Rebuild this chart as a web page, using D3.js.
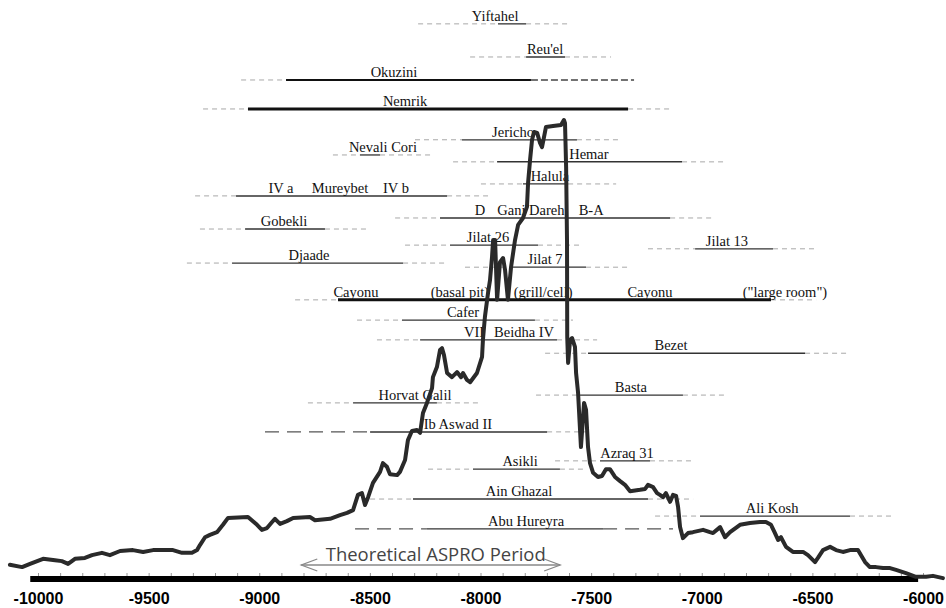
<!DOCTYPE html>
<html>
<head>
<meta charset="utf-8">
<script src="https://cdnjs.cloudflare.com/ajax/libs/d3/7.8.5/d3.min.js"></script>
<style>
	body { margin: 0; background: #fff; }
	svg#plot { display: block; }
	.site text { font-family: "Liberation Serif", "Times New Roman", serif; font-size: 14.5px; fill: #111; }
</style>
</head>
<body>
<svg id="plot" width="946" height="608"></svg>
<script>

// summed probability curve (year BC as negative, relative height)
var curveYears = [
	-10127,-10072,-10036,-9977,-9923,-9892,-9864,-9833,-9788,-9756,
	-9711,-9675,-9629,-9571,-9525,-9480,-9390,-9349,-9304,-9281,
	-9268,-9245,-9223,-9191,-9164,-9141,-9051,-9010,-8988,-8965,
	-8942,-8929,-8906,-8875,-8847,-8771,-8748,-8680,-8635,-8603,
	-8576,-8554,-8536,-8522,-8508,-8486,-8454,-8441,-8423,-8409,
	-8377,-8364,-8341,-8328,-8310,-8287,-8273,-8260,-8242,-8219,
	-8215,-8197,-8183,-8174,-8165,-8151,-8129,-8106,-8088,-8079,
	-8061,-8047,-8016,-7993,-7989,-7980,-7966,-7957,-7948,-7943,
	-7934,-7925,-7912,-7898,-7889,-7876,-7862,-7844,-7830,-7808,
	-7790,-7785,-7776,-7767,-7758,-7744,-7731,-7722,-7713,-7704,
	-7672,-7636,-7623,-7618,-7613,-7609,-7608,-7604,-7595,-7586,
	-7573,-7568,-7559,-7546,-7532,-7523,-7514,-7505,-7491,-7469,
	-7451,-7433,-7415,-7392,-7369,-7347,-7324,-7279,-7256,-7243,
	-7220,-7202,-7189,-7175,-7162,-7143,-7130,-7116,-7107,-7098,
	-7085,-7062,-7040,-6994,-6963,-6949,-6917,-6895,-6872,-6827,
	-6782,-6737,-6710,-6687,-6669,-6655,-6642,-6619,-6588,-6542,
	-6520,-6488,-6475,-6452,-6420,-6393,-6362,-6330,-6294,-6262,
	-6240,-6212,-6181,-6149,-6122,-6077,-6032,-5986,-5955,-5910
];
var curveValues = [
	3.3,2.8,3.5,4.6,4.3,4.1,3.5,4.6,4.8,5.4,
	5.9,5.4,6.3,6.5,6.1,6.5,6.5,5.9,5.9,6.5,
	7.6,9.3,9.8,10.4,12.0,13.5,13.7,12.0,10.9,11.3,
	12.6,13.3,12.2,12.8,13.5,13.7,13.0,13.3,14.1,14.6,
	15.2,18.5,18.9,16.3,18.0,21.1,23.5,25.4,24.6,23.0,
	22.8,23.5,26.1,30.4,32.4,32.6,32.0,36.3,38.5,41.7,
	44.1,46.3,50.0,50.4,48.9,45.0,44.1,45.2,44.1,45.0,
	43.5,43.0,45.0,48.5,52.2,57.2,62.4,65.2,70.2,73.9,
	73.9,60.9,69.1,70.0,67.4,60.9,68.0,73.9,77.2,78.7,
	81.1,86.3,91.3,95.7,97.4,97.2,95.0,94.1,96.3,98.5,
	98.7,98.9,100,99.3,89.8,73.9,52.8,47.2,52.2,52.6,
	50.7,45.0,40.7,28.9,38.5,37.0,28.9,25.4,23.3,22.4,
	22.6,24.1,24.1,22.4,21.5,20.7,19.3,19.6,19.8,20.7,
	20.2,18.9,18.5,18.0,18.9,17.0,18.5,18.3,15.9,11.5,
	9.1,10.2,10.4,10.9,10.4,10.2,11.5,9.3,10.4,12.0,
	12.4,12.6,12.6,12.0,10.2,8.7,9.3,7.2,6.1,6.1,
	5.4,3.9,4.8,6.5,7.2,6.5,6.1,6.5,6.5,3.9,
	2.8,2.8,2.6,2.6,2.2,1.5,0.7,0.7,0.9,0.4
];

// site ranges: dashed = possible extent, solid = main range
var siteNames  = ["Yiftahel","Reu'el","Okuzini","Nemrik","Jericho","Nevali Cori","Hemar","Halula","Mureybet","Gani Dareh",
	"Gobekli","Jilat 26","Jilat 13","Djaade","Jilat 7","Cayonu","Cafer","Beidha","Bezet","Basta",
	"Horvat Galil","Ib Aswad II","Azraq 31","Asikli","Ain Ghazal","Ali Kosh","Abu Hureyra"];
var siteLevels = [120.9,113.7,108.7,102.4,95.7,92.4,90.9,86.1,83.5,78.7,
	76.3,72.8,72.0,68.9,68.0,60.9,56.5,52.2,49.3,40.2,
	38.5,32.2,25.9,24.1,17.6,13.9,11.1];
var dashFrom  = [-8282,-8047,-9082,-9254,-8296,-8667,-8124,-7998,-9290,-8386,
	-9268,-8341,-7243,-9327,-8070,-8838,-8558,-8468,-7708,-7749,
	-8780,-8974,-7663,-8237,-8499,-7211,-8567];
var solidFrom = [-7921,-7794,-8879,-9051,-8084,-8545,-7925,-7808,-9105,-8183,
	-9064,-8138,-7030,-9123,-7867,-8644,-8355,-8273,-7514,-7550,
	-8576,-8499,-7460,-8034,-8305,-7008,-8242];
var solidTo   = [-7794,-7618,-7772,-7333,-7564,-8454,-7089,-7604,-8151,-7143,
	-8703,-7740,-6678,-8350,-7523,-6687,-7754,-7654,-6533,-7085,
	-8197,-7699,-7234,-7641,-7243,-6330,-7446];
var dashTo    = [-7595,-7410,-7306,-7130,-7365,-8215,-6890,-7387,-7966,-6940,
	-8513,-7550,-6483,-8160,-7320,-6483,-7582,-7473,-6339,-6895,
	-8002,-7505,-7039,-7523,-7039,-6135,-7130];
var siteWeight = [1,1,2,3,1,1,1.5,1,1.5,1.5, 1,1,1,1,1,3,1,1,1.5,1, 1,1.5,1,1,1.5,1,1];
var leftDash   = ["l","l","l","l","l","l","l","l","l","l", "l","l","l","l","l","l","l","l","l","l", "l","L","l","l","l","l","L"];
var rightDash  = ["l","l","d","l","l","l","l","l","l","l", "l","l","l","l","l","l","l","l","l","l", "l","l","l","l","l","l","L"];

// labels sitting on the rows (some rows carry several)
var labelTexts  = ["Yiftahel","Reu'el","Okuzini","Nemrik","Jericho","Nevali Cori","Hemar","Halula",
	"IV a","Mureybet","IV b","D","Gani Dareh","B-A","Gobekli","Jilat 26","Jilat 13","Djaade","Jilat 7",
	"Cayonu","(basal pit)","(grill/cell)","Cayonu","(\"large room\")","Cafer","VII","Beidha IV","Bezet","Basta",
	"Horvat Galil","Ib Aswad II","Azraq 31","Asikli","Ain Ghazal","Ali Kosh","Abu Hureyra"];
var labelYears  = [-7934,-7708,-8391,-8341,-7853,-8441,-7510,-7686,
	-8902,-8635,-8382,-8002,-7772,-7500,-8888,-7966,-6886,-8775,-7708,
	-8563,-8093,-7717,-7234,-6624,-8079,-8029,-7803,-7139,-7320,
	-8296,-8102,-7338,-7821,-7826,-6682,-7794];
var labelLevels = [120.9,113.7,108.7,102.4,95.7,92.4,90.9,86.1,
	83.5,83.5,83.5,78.7,78.7,78.7,76.3,72.8,72.0,68.9,68.0,
	60.9,60.9,60.9,60.9,60.9,56.5,52.2,52.2,49.3,40.2,
	38.5,32.2,25.9,24.1,17.6,13.9,11.1];

var xTicks = [-10000,-9500,-9000,-8500,-8000,-7500,-7000,-6500,-6000];
var minorTicks = d3.range(-10000, -5999, 100);
var aspro = [-8810, -7640];

var svg = d3.select("#plot");
var x = d3.scaleLinear().domain([-10000, -6000]).range([38, 923]);
var y = d3.scaleLinear().domain([0, 100]).range([580, 120]);

var dashStyle = {
	l: { stroke: "#a8a8a8", dash: "5,4", width: 1 },
	d: { stroke: "#444", dash: "7,3", width: 1.5 },
	L: { stroke: "#555", dash: "14,8", width: 1.3 }
};

var rows = siteNames.map(function(n, i){
	return { name: n, level: siteLevels[i], d0: dashFrom[i], s0: solidFrom[i], s1: solidTo[i], d1: dashTo[i],
		w: siteWeight[i], l: leftDash[i], r: rightDash[i] };
});

var site = svg.append("g").attr("class", "site");

function seg(g, a, b, lev, st){
	g.append("line")
		.attr("x1", x(a)).attr("x2", x(b))
		.attr("y1", y(lev)).attr("y2", y(lev))
		.style("stroke", st.stroke)
		.style("stroke-width", st.width)
		.style("stroke-dasharray", st.dash);
}

rows.forEach(function(r){
	seg(site, r.d0, r.s0, r.level, dashStyle[r.l]);
	seg(site, r.s1, r.d1, r.level, dashStyle[r.r]);
	site.append("line")
		.attr("x1", x(r.s0)).attr("x2", x(r.s1))
		.attr("y1", y(r.level)).attr("y2", y(r.level))
		.style("stroke", r.w >= 2 ? "#111" : "#333")
		.style("stroke-width", r.w === 1 ? 1.3 : r.w);
});

site.selectAll("text").data(labelTexts).enter()
	.append("text")
	.attr("x", function(d, i){ return x(labelYears[i]); })
	.attr("y", function(d, i){ return y(labelLevels[i]) - 3; })
	.attr("text-anchor", "middle")
	.text(function(d){ return d; });

// theoretical ASPRO period
var ap = svg.append("g");
ap.append("text")
	.attr("x", x((aspro[0] + aspro[1]) / 2) + 5)
	.attr("y", 561)
	.attr("text-anchor", "middle")
	.attr("textLength", 220)
	.attr("lengthAdjust", "spacingAndGlyphs")
	.style("font-family", "'Open Sans', 'DejaVu Sans', sans-serif")
	.style("font-size", "19px")
	.style("fill", "#444")
	.text("Theoretical ASPRO Period");
ap.append("line")
	.attr("x1", x(aspro[0])).attr("x2", x(aspro[1]))
	.attr("y1", 565).attr("y2", 565)
	.style("stroke", "#888").style("stroke-width", 1.6);
[[aspro[0], 1], [aspro[1], -1]].forEach(function(a){
	var x0 = x(a[0]);
	ap.append("path")
		.attr("d", "M" + (x0 + a[1] * 16) + ",559 L" + x0 + ",565 L" + (x0 + a[1] * 16) + ",571")
		.style("fill", "none").style("stroke", "#888").style("stroke-width", 1.3);
});

// axis: thick bar, minor ticks on top, bold labels below
svg.append("g")
	.attr("transform", "translate(0,577)")
	.call(d3.axisTop(x).tickValues(minorTicks).tickSize(4).tickFormat(""))
	.call(function(g){ g.select(".domain").remove(); })
	.selectAll("line").style("stroke", "#999");

svg.append("rect")
	.attr("x", x(-10035)).attr("width", x(-6022) - x(-10035))
	.attr("y", 576).attr("height", 6)
	.style("fill", "#000");

svg.append("g")
	.attr("transform", "translate(0,582)")
	.call(d3.axisBottom(x).tickValues(xTicks).tickSize(0).tickPadding(11)
		.tickFormat(function(d){ return String(d); }))
	.call(function(g){ g.select(".domain").remove(); })
	.selectAll("text")
	.style("font-family", "'Liberation Sans', Arial, sans-serif")
	.style("font-weight", "bold")
	.style("font-size", "16px")
	.style("fill", "#000");

// the curve goes over everything
var pts = curveYears.map(function(d, i){ return [d, curveValues[i]]; });
svg.append("path")
	.datum(pts)
	.attr("d", d3.line().x(function(d){ return x(d[0]); }).y(function(d){ return y(d[1]); }))
	.style("fill", "none")
	.style("stroke", "#2a2a2a")
	.style("stroke-width", 4)
	.style("stroke-linejoin", "round")
	.style("stroke-linecap", "round");

</script>
</body>
</html>
